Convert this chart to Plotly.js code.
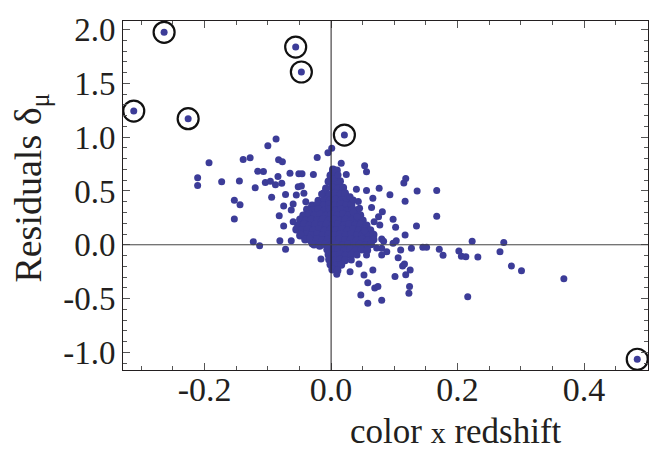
<!DOCTYPE html>
<html>
<head>
<meta charset="utf-8">
<script src="https://cdn.plot.ly/plotly-3.0.1.min.js"></script>
<style>html,body{margin:0;padding:0;background:#fff}#chart{width:668px;height:450px}</style>
</head>
<body>
<div id="chart"></div>
<script>
// ---- data ----
// scattered supernovae (color x redshift, Hubble residual)
const colorRedshift = [
  -0.087,-0.100,-0.193,-0.139,-0.128,-0.211,-0.211,-0.173,-0.145,-0.116,
  -0.107,-0.083,-0.077,-0.084,-0.104,-0.096,-0.088,-0.120,-0.094,-0.153,
  -0.144,-0.153,-0.082,-0.123,-0.113,-0.081,-0.072,-0.063,-0.034,-0.016,
  -0.065,-0.051,-0.046,-0.028,-0.022,-0.005,0.001,-0.072,-0.052,-0.047,
  -0.078,-0.055,-0.043,-0.040,-0.075,-0.060,-0.063,-0.075,-0.015,0.005,
  0.002,0.016,0.053,0.056,0.024,0.011,0.118,0.115,0.076,0.056,
  0.040,0.093,0.136,0.167,0.030,0.035,0.043,0.066,0.117,0.045,
  0.064,0.081,0.075,0.167,0.098,0.102,0.135,0.077,0.053,0.117,
  0.080,0.083,0.098,0.103,0.223,0.273,0.080,0.088,0.080,0.110,
  0.127,0.145,0.151,0.171,0.177,0.202,0.206,0.213,0.232,0.267,
  0.106,0.113,0.116,0.125,0.118,0.101,0.285,0.301,0.368,0.124,
  0.123,0.216,0.080,0.058,0.047,0.069,0.074,0.058,0.052,0.066,
  0.030,0.009,0.044,0.032,0.041,0.056,0.035,0.041,
  -0.060,-0.030,-0.048,0.068,0.072
];
const residuals = [
  0.983,0.921,0.763,0.793,0.809,0.623,0.551,0.586,0.593,0.683,
  0.681,0.791,0.772,0.635,0.579,0.590,0.559,0.531,0.441,0.414,
  0.372,0.240,0.270,0.028,-0.008,0.038,-0.042,0.038,0.060,-0.132,
  0.664,0.660,0.660,0.653,0.811,0.856,0.897,0.467,0.540,0.546,
  0.572,0.463,0.479,0.401,0.361,0.379,0.323,0.175,0.472,0.618,
  0.674,0.757,0.735,0.679,0.653,0.649,0.616,0.574,0.525,0.505,
  0.516,0.465,0.500,0.505,0.447,0.416,0.402,0.432,0.404,0.339,
  0.347,0.308,0.261,0.266,0.237,0.164,0.175,0.184,0.131,0.091,
  0.054,0.033,0.014,0.038,0.033,0.020,-0.033,-0.064,-0.095,-0.048,
  -0.033,-0.023,-0.023,-0.042,-0.098,-0.058,-0.107,-0.111,-0.113,-0.064,
  -0.120,-0.197,-0.178,-0.234,-0.278,-0.296,-0.197,-0.241,-0.315,-0.389,
  -0.451,-0.482,-0.516,-0.544,-0.467,-0.401,-0.389,-0.352,-0.281,-0.234,
  -0.250,-0.274,-0.178,-0.141,-0.095,-0.095,0.308,0.261,
  0.215,0.010,0.100,0.215,-0.030
];
// dense core of the distribution near the origin
const coreColorRedshift = [
  0.003,0.009,
  -0.001,0.008,
  -0.004,0.006,0.014,
  -0.008,0.002,0.011,0.019,
  -0.011,-0.002,0.006,0.015,0.022,
  -0.020,-0.011,-0.002,0.007,0.016,0.025,
  -0.030,-0.021,-0.012,-0.003,0.006,0.015,0.024,0.032,
  -0.038,-0.029,-0.020,-0.011,-0.002,0.007,0.016,0.025,0.034,0.041,
  -0.044,-0.035,-0.026,-0.017,-0.008,0.001,0.010,0.019,0.028,0.037,0.046,
  -0.049,-0.040,-0.031,-0.022,-0.013,-0.004,0.005,0.014,0.023,0.032,0.041,0.050,
  -0.052,-0.043,-0.034,-0.025,-0.016,-0.007,0.002,0.011,0.020,0.029,0.038,0.047,0.056,
  -0.055,-0.046,-0.037,-0.028,-0.019,-0.010,-0.001,0.008,0.017,0.026,0.035,0.044,0.053,0.062,
  -0.049,-0.040,-0.031,-0.022,-0.013,-0.004,0.005,0.014,0.023,0.032,0.041,0.050,0.059,0.067,
  -0.041,-0.032,-0.023,-0.014,-0.005,0.004,0.013,0.022,0.031,0.040,0.049,0.058,0.067,
  -0.027,-0.018,-0.009,0.000,0.009,0.018,0.027,0.036,0.045,0.054,0.063,
  -0.006,0.003,0.012,0.021,0.030,0.039,0.048,0.057,
  -0.004,0.005,0.014,0.023,0.032,
  -0.003,0.006,0.015,0.022,
  -0.001,0.008,0.016,
  0.002,0.010
];
const coreResiduals = [
  0.700,0.690,
  0.645,0.630,
  0.588,0.578,0.590,
  0.522,0.533,0.520,0.531,
  0.478,0.466,0.476,0.465,0.480,
  0.410,0.421,0.409,0.420,0.412,0.423,
  0.365,0.376,0.364,0.374,0.366,0.377,0.365,0.372,
  0.328,0.318,0.330,0.317,0.327,0.319,0.329,0.316,0.326,0.320,
  0.272,0.283,0.271,0.281,0.270,0.282,0.273,0.284,0.271,0.280,0.274,
  0.235,0.224,0.236,0.225,0.237,0.226,0.234,0.223,0.235,0.226,0.233,0.225,
  0.179,0.190,0.178,0.189,0.180,0.191,0.178,0.188,0.181,0.190,0.179,0.187,0.180,
  0.143,0.132,0.144,0.133,0.142,0.131,0.143,0.134,0.145,0.132,0.141,0.133,0.144,0.136,
  0.086,0.097,0.085,0.096,0.087,0.098,0.086,0.095,0.084,0.097,0.088,0.096,0.085,0.093,
  0.050,0.040,0.051,0.039,0.049,0.041,0.052,0.040,0.050,0.038,0.049,0.042,0.050,
  0.003,-0.008,0.004,-0.007,0.005,-0.006,0.003,-0.008,0.002,-0.006,0.004,
  -0.043,-0.054,-0.044,-0.053,-0.042,-0.052,-0.045,-0.051,
  -0.090,-0.100,-0.089,-0.099,-0.092,
  -0.136,-0.146,-0.137,-0.145,
  -0.183,-0.193,-0.185,
  -0.229,-0.238
];
// circled outliers
const outlierColorRedshift = [-0.312,-0.264,-0.226,-0.056,-0.047,0.021,0.484];
const outlierResiduals     = [1.243,1.975,1.172,1.838,1.606,1.020,-1.064];

// tick labels
const xTickVals = [-0.2, 0.0, 0.2, 0.4];
const xTickText = ['-0.2', '0.0', '0.2', '0.4'];
const yTickVals = [-1.0, -0.5, 0.0, 0.5, 1.0, 1.5, 2.0];
const yTickText = ['-1.0', '-0.5', '0.0', '0.5', '1.0', '1.5', '2.0'];

const dotColor = '#3c3c98';
const ink = '#231f20';
const serif = 'Liberation Serif, Times New Roman, serif';

const traces = [
  {x: coreColorRedshift, y: coreResiduals, type: 'scatter', mode: 'markers',
   marker: {color: dotColor, size: 8}, hoverinfo: 'skip'},
  {x: colorRedshift, y: residuals, type: 'scatter', mode: 'markers',
   marker: {color: dotColor, size: 7}},
  {x: outlierColorRedshift, y: outlierResiduals, type: 'scatter', mode: 'markers',
   marker: {color: dotColor, size: 7}},
  {x: outlierColorRedshift, y: outlierResiduals, type: 'scatter', mode: 'markers',
   marker: {symbol: 'circle-open', size: 21, color: '#111', line: {width: 2.2, color: '#111'}}}
];

const axisCommon = {
  ticks: 'inside', ticklen: 7, tickwidth: 1, tickcolor: '#555',
  showline: true, linecolor: ink, linewidth: 1, mirror: 'allticks',
  showgrid: false, zeroline: false
};

const layout = {
  width: 668, height: 450,
  margin: {l: 123, r: 20, t: 21, b: 80, pad: 0},
  paper_bgcolor: '#fff', plot_bgcolor: '#fff',
  showlegend: false,
  font: {family: serif, color: ink},
  xaxis: Object.assign({}, axisCommon, {
    range: [-0.329, 0.501],
    tickmode: 'array', tickvals: xTickVals, ticktext: xTickText,
    tickfont: {size: 34, family: serif, color: ink},
    ticklabelstandoff: -11,
    minor: {tickmode: 'linear', tick0: 0, dtick: 0.05, ticks: 'inside', ticklen: 4, tickcolor: '#555', showgrid: false}
  }),
  yaxis: Object.assign({}, axisCommon, {
    range: [-1.164, 2.080],
    tickmode: 'array', tickvals: yTickVals, ticktext: yTickText,
    tickfont: {size: 33, family: serif, color: ink},
    minor: {tickmode: 'linear', tick0: 0, dtick: 0.1, ticks: 'inside', ticklen: 4, tickcolor: '#555', showgrid: false}
  }),
  shapes: [
    {type: 'line', xref: 'x', yref: 'paper', x0: 0, x1: 0, y0: 0, y1: 1,
     line: {color: ink, width: 1}, layer: 'above'},
    {type: 'line', xref: 'paper', yref: 'y', x0: 0, x1: 1, y0: 0, y1: 0,
     line: {color: '#444', width: 1}, layer: 'above'}
  ],
  annotations: [
    {xref: 'paper', yref: 'paper', x: 0.635, y: -0.176, xanchor: 'center', yanchor: 'middle',
     showarrow: false, text: 'color <span style="font-size:30px">x</span> redshift',
     font: {size: 35, family: serif, color: ink}},
    {xref: 'paper', yref: 'paper', x: -0.177, y: 0.52, xanchor: 'center', yanchor: 'middle',
     showarrow: false, textangle: -90, text: 'Residuals δ<sub>μ</sub>',
     font: {size: 38, family: serif, color: ink}}
  ]
};

Plotly.newPlot('chart', traces, layout, {displayModeBar: false, staticPlot: true});
</script>
</body>
</html>
